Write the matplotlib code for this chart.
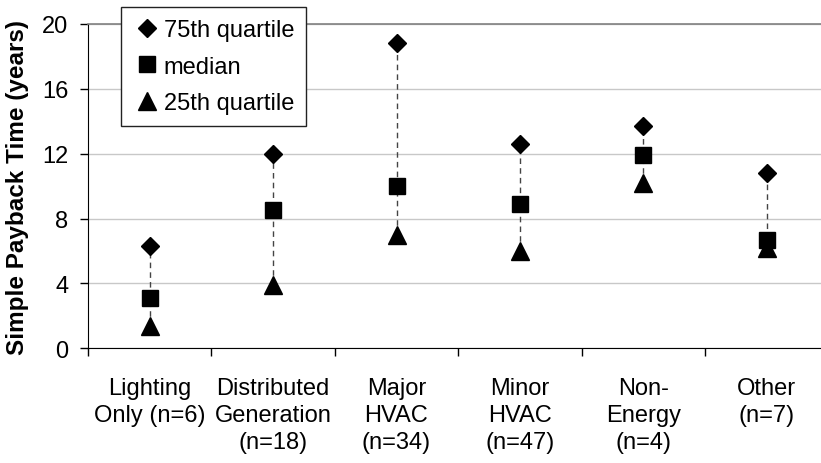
import numpy as np
import matplotlib
matplotlib.use("Agg")
import matplotlib.pyplot as plt

plt.rcParams['font.family'] = ['Liberation Sans', 'DejaVu Sans']

# categories and payback values (years)
categories = ["Lighting\nOnly (n=6)", "Distributed\nGeneration\n(n=18)", "Major\nHVAC\n(n=34)",
              "Minor\nHVAC\n(n=47)", "Non-\nEnergy\n(n=4)", "Other\n(n=7)"]
q75 = [6.3, 12.0, 18.8, 12.6, 13.7, 10.8]
median = [3.1, 8.5, 10.0, 8.9, 11.9, 6.7]
q25 = [1.4, 3.9, 7.0, 6.0, 10.2, 6.2]
yticks = [0, 4, 8, 12, 16, 20]

fs = 17
x = np.arange(len(categories))

fig = plt.figure(figsize=(8.21, 4.64), dpi=100)
ax = fig.add_axes([88 / 821, 1 - 349.3 / 464, 740.4 / 821, 324.3 / 464])

# dashed range lines from 25th to 75th
ax.vlines(x, q25, q75, colors='#444444', linestyles=(0, (4, 3)), linewidth=1.0, zorder=2)

ax.plot(x, q75, linestyle='none', marker='D', ms=9.2, color='black', label='75th quartile', zorder=3)
ax.plot(x, median, linestyle='none', marker='s', ms=11, color='black', label='median', zorder=3)
ax.plot(x, q25, linestyle='none', marker='^', ms=13, color='black', label='25th quartile', zorder=3)

ax.set_xlim(-0.5, len(categories) - 0.5)
ax.set_ylim(0, 20)
ax.set_yticks(yticks)
ax.set_yticklabels([str(v) for v in yticks], fontsize=fs)
ax.yaxis.grid(True, color='#c8c8c8', linewidth=1.0)
ax.set_axisbelow(True)

ax.set_xticks(x)
ax.set_xticklabels(categories, fontsize=fs, linespacing=1.28)
ax.set_xticks(np.arange(-0.5, len(categories)), minor=True)
ax.tick_params(axis='x', which='major', length=0, pad=21)
ax.tick_params(axis='x', which='minor', length=6, width=1, color='black', direction='out')
ax.tick_params(axis='y', length=6, width=1, color='black', direction='out', pad=8)

ax.spines['right'].set_visible(False)
ax.spines['top'].set_color('#808080')
ax.spines['top'].set_linewidth(1.2)
ax.spines['left'].set_color('black')
ax.spines['bottom'].set_color('black')

ax.set_ylabel("Simple Payback Time (years)", fontsize=17.5, fontweight='bold')
ax.yaxis.set_label_coords(-0.08, 0.5)

leg = ax.legend(loc='upper left', bbox_to_anchor=(121 / 821, 1 - 8.3 / 464), bbox_transform=fig.transFigure,
                borderaxespad=0, fontsize=fs, frameon=True, fancybox=False, handlelength=1.2,
                handletextpad=0.1, borderpad=0.5, labelspacing=0.62, framealpha=1)
leg.get_frame().set_edgecolor('#222222')
leg.get_frame().set_linewidth(1.0)

fig.savefig("out.png", dpi=100)
